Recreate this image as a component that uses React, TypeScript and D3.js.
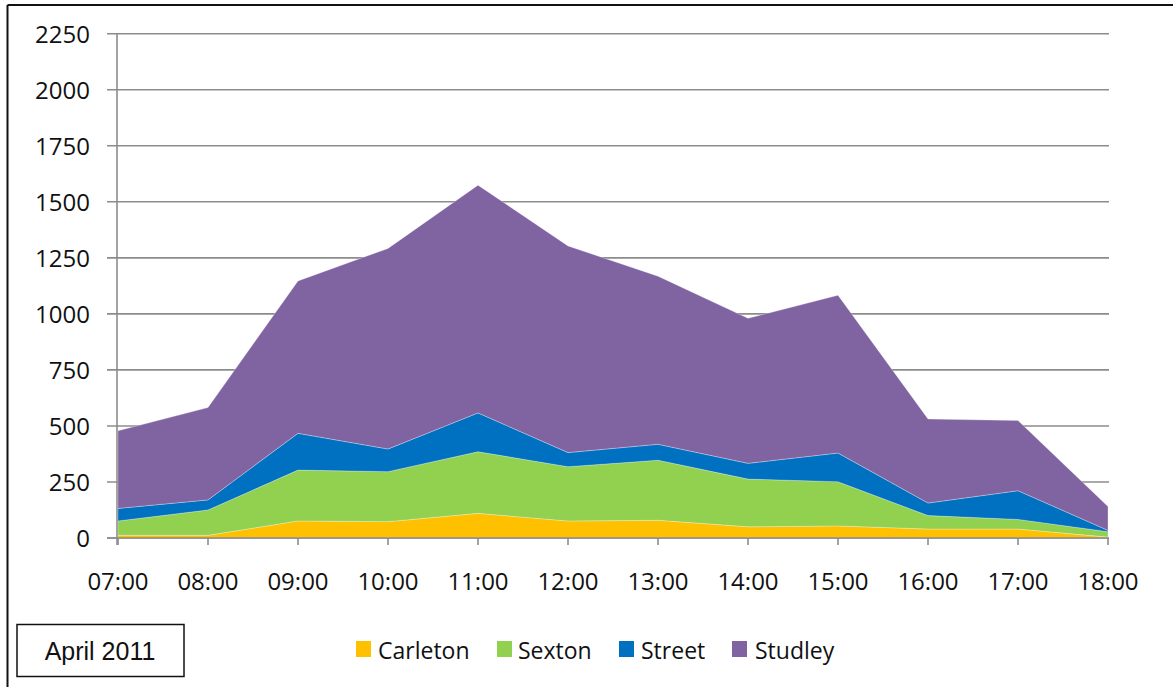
import React from "react";
import * as d3 from "d3";

const categories = ["07:00", "08:00", "09:00", "10:00", "11:00", "12:00", "13:00", "14:00", "15:00", "16:00", "17:00", "18:00"];
const carleton = [12, 12, 76, 73, 110, 76, 79, 50, 54, 40, 40, 4];
const sexton = [64, 113, 227, 223, 275, 242, 268, 213, 197, 60, 43, 24];
const street = [56, 45, 164, 101, 173, 63, 71, 70, 128, 56, 128, 6];
const studley = [346, 412, 680, 895, 1016, 922, 750, 647, 704, 375, 313, 106];
const seriesNames = ["Carleton", "Sexton", "Street", "Studley"];
const seriesColors = ["#FFC000", "#92D050", "#0070C0", "#8064A2"];
const yTicks = [0, 250, 500, 750, 1000, 1250, 1500, 1750, 2000, 2250];
const caption = "April 2011";

const W = 1173;
const H = 687;
const X0 = 118;
const X1 = 1108;
const Y0 = 538;
const Y1 = 33.7;
const FONT = "'Open Sans', sans-serif";

export default function App() {
  const rows = categories.map((c, i) => ({
    cat: c,
    Carleton: carleton[i],
    Sexton: sexton[i],
    Street: street[i],
    Studley: studley[i],
  }));
  const stack = d3.stack<any>().keys(seriesNames);
  const layers = stack(rows);

  const x = d3.scalePoint<string>().domain(categories).range([X0, X1]);
  const y = d3.scaleLinear().domain([0, 2250]).range([Y0, Y1]);

  const area = d3
    .area<any>()
    .x((d) => x(d.data.cat) as number)
    .y0((d) => y(d[0]))
    .y1((d) => y(d[1]));

  const legendItems = [
    { name: "Carleton", sx: 356, tx: 378 },
    { name: "Sexton", sx: 497, tx: 518 },
    { name: "Street", sx: 619, tx: 641 },
    { name: "Studley", sx: 732, tx: 755 },
  ];

  return (
    <svg
      width={W}
      height={H}
      style={{ position: "absolute", left: 0, top: 0, background: "#fff" }}
    >
      <rect x={0} y={0} width={W} height={H} fill="#fff" />
      {/* outer border */}
      <line x1={7.5} y1={5} x2={W} y2={5} stroke="#111" strokeWidth={2} />
      <line x1={7.5} y1={5} x2={7.5} y2={H} stroke="#111" strokeWidth={2} />

      {/* gridlines */}
      {yTicks.map((t) => (
        <line
          key={"g" + t}
          x1={107}
          x2={X1 + 1}
          y1={y(t)}
          y2={y(t)}
          stroke="#8c8c8c"
          strokeWidth={1.6}
        />
      ))}
      {/* y labels */}
      {yTicks.map((t) => (
        <text
          key={"yl" + t}
          x={90}
          y={y(t) + 9}
          textAnchor="end"
          fontFamily={FONT}
          fontSize={24}
          fill="#111"
        >
          {t}
        </text>
      ))}

      {/* areas */}
      {layers.map((layer, i) => (
        <path
          key={layer.key}
          d={area(layer) as string}
          fill={seriesColors[i]}
          stroke="#ffffff"
          strokeOpacity={0.35}
          strokeWidth={0.8}
        />
      ))}

      {/* axes */}
      <line x1={117} x2={117} y1={Y1} y2={Y0 + 7} stroke="#8c8c8c" strokeWidth={1.6} />
      <line x1={107} x2={X1 + 1} y1={Y0} y2={Y0} stroke="#8c8c8c" strokeWidth={1.6} />
      {categories.map((c) => (
        <line
          key={"t" + c}
          x1={x(c)}
          x2={x(c)}
          y1={Y0}
          y2={Y0 + 7}
          stroke="#8c8c8c"
          strokeWidth={1.6}
        />
      ))}
      {categories.map((c) => (
        <text
          key={"xl" + c}
          x={x(c)}
          y={590}
          textAnchor="middle"
          fontFamily={FONT}
          fontSize={24}
          fill="#111"
        >
          {c}
        </text>
      ))}

      {/* caption box */}
      <rect x={17} y={624.5} width={167} height={52} fill="#fff" stroke="#111" strokeWidth={1.5} />
      <text
        x={100}
        y={660}
        textAnchor="middle"
        fontFamily="'Liberation Sans', Arial, sans-serif"
        fontSize={25}
        fill="#111"
      >
        {caption}
      </text>

      {/* legend */}
      {legendItems.map((it, i) => (
        <g key={it.name}>
          <rect x={it.sx} y={641} width={15} height={16} fill={seriesColors[i]} />
          <text x={it.tx} y={659} fontFamily={FONT} fontSize={23} fill="#111">
            {it.name}
          </text>
        </g>
      ))}
    </svg>
  );
}
